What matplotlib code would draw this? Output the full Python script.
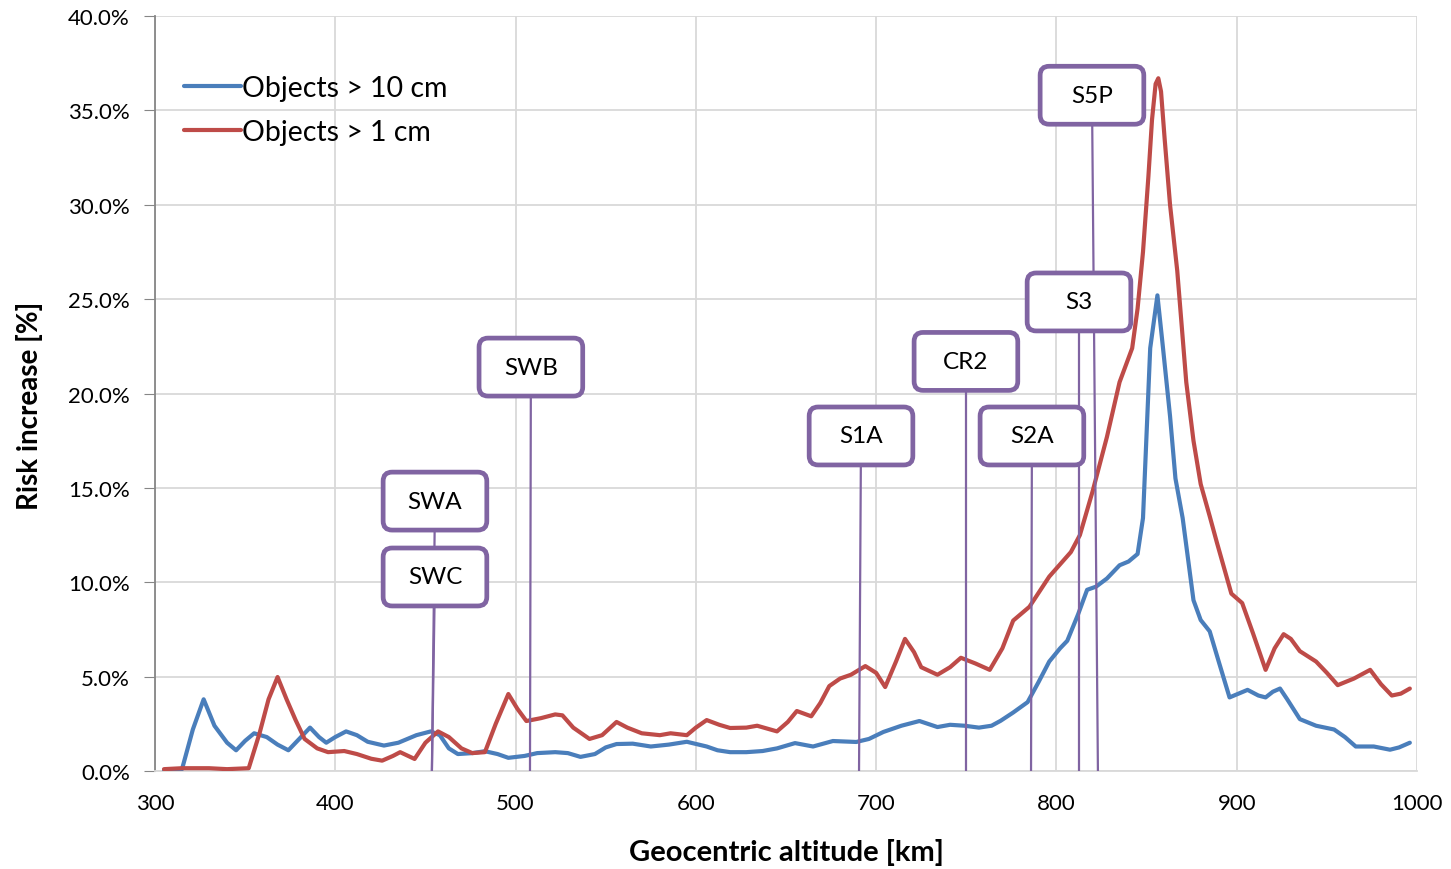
import numpy as np
import matplotlib.pyplot as plt
from matplotlib.patches import FancyBboxPatch

plt.rcParams['font.family'] = ['Lato', 'DejaVu Sans']

# Objects > 10 cm
alt_10 = [305, 315, 321, 327, 333, 340, 345, 350, 355, 362, 368, 374, 380, 386, 391, 395,
          400, 406, 412, 418, 427, 435, 445, 453, 458, 463, 468, 476, 483, 490, 496, 505,
          512, 522, 529, 536, 544, 550, 556, 565, 575, 585, 595, 606, 612, 619, 628, 637,
          645, 655, 665, 676, 689, 696, 704, 714, 724, 734, 741, 749, 757, 764, 769, 776,
          784, 790, 796, 802, 806, 812, 817, 822, 828, 835, 840, 845, 848, 852, 856, 859,
          863, 866, 870, 876, 880, 885, 890, 896, 901, 906, 912, 916, 920, 924, 928, 935,
          944, 954, 960, 966, 976, 985, 990, 996]
risk_10 = [0.0, 0.1, 2.2, 3.8, 2.4, 1.5, 1.1, 1.6, 2.0, 1.8, 1.4, 1.1, 1.7, 2.3, 1.8, 1.5,
           1.8, 2.1, 1.9, 1.55, 1.35, 1.5, 1.9, 2.1, 1.9, 1.2, 0.9, 0.95, 1.05, 0.9, 0.7, 0.8,
           0.95, 1.0, 0.95, 0.75, 0.9, 1.25, 1.43, 1.45, 1.3, 1.4, 1.55, 1.3, 1.1, 1.0, 1.0, 1.06,
           1.2, 1.48, 1.3, 1.59, 1.54, 1.7, 2.07, 2.4, 2.65, 2.33, 2.45, 2.4, 2.3, 2.4, 2.66, 3.1,
           3.65, 4.7, 5.8, 6.5, 6.9, 8.3, 9.6, 9.77, 10.2, 10.9, 11.1, 11.5, 13.4, 22.4, 25.2, 22.5,
           18.8, 15.5, 13.4, 9.05, 8.0, 7.4, 5.8, 3.9, 4.1, 4.3, 4.0, 3.9, 4.2, 4.37, 3.8, 2.75,
           2.4, 2.2, 1.8, 1.3, 1.3, 1.13, 1.25, 1.5]

# Objects > 1 cm
alt_1 = [305, 315, 330, 340, 352, 358, 363, 368, 373, 378, 383, 390, 396, 405, 412, 420,
         426, 432, 436, 444, 450, 457, 463, 470, 476, 483, 489, 496, 501, 506, 514, 522,
         526, 532, 541, 548, 556, 562, 570, 580, 586, 595, 600, 606, 613, 619, 628, 634,
         645, 651, 656, 664, 669, 674, 680, 686, 694, 700, 705, 711, 716, 721, 725, 734,
         741, 747, 755, 763, 770, 776, 785, 796, 808, 813, 820, 828, 835, 842, 845, 848,
         851, 853, 855, 856.5, 858, 860, 863, 867, 872, 876, 880, 885, 889, 897, 903, 909,
         916, 921, 926, 930, 935, 944, 950, 956, 965, 974, 980, 986, 991, 996]
risk_1 = [0.1, 0.15, 0.15, 0.1, 0.15, 2.0, 3.8, 4.98, 3.8, 2.7, 1.7, 1.2, 1.0, 1.06, 0.9, 0.65,
          0.55, 0.8, 1.0, 0.64, 1.5, 2.1, 1.8, 1.2, 0.95, 1.0, 2.5, 4.08, 3.3, 2.65, 2.8, 3.0,
          2.95, 2.3, 1.7, 1.9, 2.6, 2.3, 2.0, 1.9, 2.0, 1.9, 2.3, 2.7, 2.45, 2.28, 2.3, 2.4,
          2.1, 2.6, 3.18, 2.9, 3.6, 4.5, 4.9, 5.1, 5.56, 5.2, 4.45, 5.8, 7.0, 6.3, 5.5, 5.1,
          5.5, 6.0, 5.7, 5.36, 6.5, 7.97, 8.7, 10.3, 11.6, 12.5, 14.8, 17.7, 20.6, 22.4, 24.5, 27.5,
          31.5, 34.5, 36.4, 36.7, 36.0, 33.5, 30.0, 26.5, 20.6, 17.5, 15.2, 13.5, 12.1, 9.4, 8.9, 7.3,
          5.36, 6.5, 7.25, 7.0, 6.35, 5.8, 5.2, 4.55, 4.9, 5.36, 4.6, 4.0, 4.1, 4.37]

# satellites: name, altitude of the marker line, label box centre
sat_names = ['SWA', 'SWC', 'SWB', 'S1A', 'CR2', 'S2A', 'S3', 'S5P']
sat_alt = [453.6, 453.6, 508, 690.5, 749.8, 785.9, 812.5, 823]
box_x = [455.3, 455.3, 508.5, 691.6, 749.8, 786.4, 812.5, 819.7]
box_y = [14.3, 10.28, 21.4, 17.75, 21.7, 17.75, 24.85, 35.8]

fig = plt.figure(figsize=(14.51, 8.70), dpi=100)
ax = fig.add_axes([0.1068, 0.1126, 0.8698, 0.8679])

purple = '#8064A2'
ax.plot(alt_10, risk_10, color='#4A7EBB', lw=3.0, label='Objects > 10 cm', zorder=3,
        solid_joinstyle='round', solid_capstyle='round')
ax.plot(alt_1, risk_1, color='#BE4B48', lw=3.0, label='Objects > 1 cm', zorder=3,
        solid_joinstyle='round', solid_capstyle='round')

ax.set_xlim(300, 1000)
ax.set_ylim(0, 40)

# box size in data units (about 104 x 58 px)
bw, bh = 57.5, 3.07
aspect = (40 / (0.8679 * 870)) / (700 / (0.8698 * 1451))
for name, xa, bx, by in zip(sat_names, sat_alt, box_x, box_y):
    ax.plot([xa, bx], [0, by], color=purple, lw=1.6, zorder=4)
    box = FancyBboxPatch((bx - bw / 2, by - bh / 2), bw, bh,
                         boxstyle='round,pad=0,rounding_size=5',
                         mutation_aspect=aspect, fc='white', ec=purple, lw=3.4, zorder=5)
    ax.add_patch(box)
    ax.text(bx, by, name, ha='center', va='center', fontsize=17.5, zorder=6)

ax.set_xticks(np.arange(300, 1001, 100))
ax.set_yticks(np.arange(0, 41, 5))
ax.set_yticklabels([f'{v:.1f}%' for v in np.arange(0, 41, 5)])
ax.tick_params(axis='both', labelsize=16, color='#868686', direction='out')
ax.tick_params(axis='y', length=8, pad=10)
ax.tick_params(axis='x', length=0, pad=16)
ax.grid(True, color='#D9D9D9', lw=1.3)
ax.set_axisbelow(True)
for s in ['top', 'right']:
    ax.spines[s].set_visible(False)
ax.spines['left'].set_color('#868686')
ax.spines['left'].set_linewidth(1.3)
ax.spines['bottom'].set_color('#D9D9D9')
ax.spines['bottom'].set_linewidth(1.3)

ax.set_xlabel('Geocentric altitude [km]', fontsize=21, fontweight='bold', labelpad=18)
ax.set_ylabel('Risk increase [%]', fontsize=20, fontweight='bold', labelpad=18)
ax.yaxis.set_label_coords(-0.089, 0.485)

ax.legend(loc='upper left', bbox_to_anchor=(0.014, 0.937), frameon=False, fontsize=20.5,
          handlelength=2.0, handletextpad=0.05, labelspacing=0.62, borderaxespad=0)

fig.savefig('out.png', dpi=100)
